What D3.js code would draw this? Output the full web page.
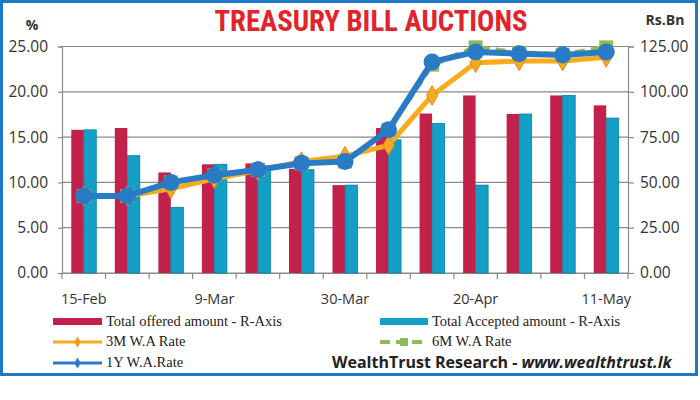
<!DOCTYPE html>
<html><head><meta charset="utf-8">
<script src="https://cdn.jsdelivr.net/npm/d3@7"></script>
<style>body{margin:0;background:#fff}svg{display:block}</style>
</head><body><svg id="c" width="700" height="400"></svg>
<script>
const categories = ["15-Feb","22-Feb","1-Mar","9-Mar","16-Mar","23-Mar","30-Mar","6-Apr","13-Apr","20-Apr","27-Apr","4-May","11-May"];
const shownLabels = ["15-Feb","9-Mar","30-Mar","20-Apr","11-May"];
const offered = [79, 80, 55.5, 60, 60.5, 57.5, 48.5, 80, 88, 98, 87.75, 98, 92.5];
const accepted = [79, 64.75, 36.25, 60, 59, 57, 48.5, 73.5, 82.5, 48.5, 87.75, 98, 85.5];
const rate3M = [8.5, 8.5, 9.3, 10.4, 11.3, 12.3, 12.9, 14.1, 19.6, 23.2, 23.4, 23.4, 23.8];
const rate6M = [8.5, 8.5, 10.0, 10.8, 11.4, 12.1, 12.3, 15.8, 23.0, 24.9, 24.3, 24.1, 24.9];
const rate1Y = [8.5, 8.5, 10.0, 10.8, 11.4, 12.1, 12.3, 15.8, 23.3, 24.4, 24.2, 24.05, 24.4];
const leftTicks = [0, 5, 10, 15, 20, 25];
const rightTicks = [0, 25, 50, 75, 100, 125];

const svg = d3.select("#c");
const L = 62, R = 628, T = 46.5, B = 273;
const x = d3.scaleBand().domain(categories).range([L, R]);
const xs = d3.scaleBand().domain(["off","acc"]).range([0, 25]);
const yL = d3.scaleLinear().domain([0, 25]).range([B, T]);
const yR = d3.scaleLinear().domain([0, 125]).range([B, T]);
const tickFont = "'Open Sans', sans-serif";

// frame
svg.append("rect").attr("x",1.5).attr("y",1.5).attr("width",695).attr("height",373)
  .attr("fill","none").attr("stroke","#1f78c8").attr("stroke-width",3);

// grid
svg.append("g").selectAll("line").data(leftTicks).join("line")
  .attr("x1",L).attr("x2",R).attr("y1",d=>yL(d)).attr("y2",d=>yL(d))
  .attr("stroke","#8a8a8a").attr("stroke-width",1.2);

// left axis
const gl = svg.append("g").attr("transform",`translate(${L},0)`)
  .call(d3.axisLeft(yL).tickValues(leftTicks).tickFormat(d3.format(".2f")).tickSize(4).tickPadding(10));
// right axis
const gr = svg.append("g").attr("transform",`translate(${R},0)`)
  .call(d3.axisRight(yR).tickValues(rightTicks).tickFormat(d3.format(".2f")).tickSize(6).tickPadding(6));
// bottom axis
const gb = svg.append("g").attr("transform",`translate(0,${B})`)
  .call(d3.axisBottom(x).tickValues([]).tickSizeOuter(0));
gb.selectAll(".edge").data(d3.range(categories.length+1)).join("line")
  .attr("x1",i=>L+i*x.step()).attr("x2",i=>L+i*x.step()).attr("y1",0).attr("y2",6)
  .attr("stroke","#8a8a8a").attr("stroke-width",1.2);
svg.append("g").selectAll("text").data(shownLabels).join("text")
  .attr("x",d=>x(d)+x.bandwidth()/2).attr("y",304).attr("text-anchor","middle")
  .attr("font-family",tickFont).attr("font-size",14.5).attr("fill","#333").text(d=>d);
[gl,gr,gb].forEach(g=>{
  g.selectAll(".domain").attr("stroke","#8a8a8a").attr("stroke-width",1.2);
  g.selectAll(".tick line").attr("stroke","#8a8a8a").attr("stroke-width",1.2);
  g.selectAll("text").attr("font-family",tickFont).attr("font-size",15.5).attr("fill","#333");
});

// bars
const barG = svg.append("g");
const off = (c) => x(c) + (x.bandwidth()-25)/2;
barG.selectAll(".off").data(categories).join("rect")
  .attr("x",(c)=>off(c)+xs("off")).attr("width",xs.bandwidth())
  .attr("y",(c,i)=>yR(offered[i])).attr("height",(c,i)=>B-yR(offered[i]))
  .attr("fill","#c2214c");
barG.selectAll(".acc").data(categories).join("rect")
  .attr("x",(c)=>off(c)+xs("acc")).attr("width",xs.bandwidth())
  .attr("y",(c,i)=>yR(accepted[i])).attr("height",(c,i)=>B-yR(accepted[i]))
  .attr("fill","#139fc6").attr("stroke","#0b7f9f").attr("stroke-width",0.8);

const cx = c => x(c) + x.bandwidth()/2;
const line = d3.line().x((d,i)=>cx(categories[i])).y(d=>yL(d));

// 3M
svg.append("path").attr("d",line(rate3M)).attr("fill","none").attr("stroke","#f7ac1e").attr("stroke-width",5).attr("stroke-linejoin","round");
svg.append("g").selectAll("path").data(rate3M).join("path")
  .attr("d",d3.symbol(d3.symbolDiamond,110)())
  .attr("transform",(d,i)=>`translate(${cx(categories[i])},${yL(d)})`)
  .attr("fill","#f7a825").attr("stroke","#e8891a").attr("stroke-width",1);
// 6M
svg.append("path").attr("d",line(rate6M)).attr("fill","none").attr("stroke","#8dbb55").attr("stroke-width",5).attr("stroke-dasharray","10,6");
svg.append("g").selectAll("rect").data(rate6M).join("rect")
  .attr("x",(d,i)=>cx(categories[i])-7).attr("y",d=>yL(d)-7).attr("width",14).attr("height",14)
  .attr("fill","#8dbb55");
// 1Y
svg.append("path").attr("d",line(rate1Y)).attr("fill","none").attr("stroke","#2a7bc6").attr("stroke-width",6).attr("stroke-linejoin","round");
svg.append("g").selectAll("circle").data(rate1Y).join("circle")
  .attr("cx",(d,i)=>cx(categories[i])).attr("cy",d=>yL(d)).attr("r",8.5)
  .attr("fill","#2a7bc6");

// titles
svg.append("text").attr("x",371).attr("y",31).attr("text-anchor","middle")
  .attr("font-family","'Liberation Sans Narrow','Roboto Condensed','Arial Narrow',sans-serif")
  .attr("font-weight","bold").attr("font-size",29).attr("fill","#e3232c")
  .attr("textLength",313).attr("lengthAdjust","spacingAndGlyphs").text("TREASURY BILL AUCTIONS");
svg.append("text").attr("x",32).attr("y",30).attr("text-anchor","middle")
  .attr("font-family",tickFont).attr("font-weight","bold").attr("font-size",14).attr("fill","#333").text("%");
svg.append("text").attr("x",665).attr("y",25).attr("text-anchor","middle")
  .attr("font-family",tickFont).attr("font-weight","bold").attr("font-size",14).attr("fill","#333").text("Rs.Bn");

// legend
const serif = "'Liberation Serif','Times New Roman',serif";
const lg = svg.append("g");
lg.append("rect").attr("x",53).attr("y",318).attr("width",49).attr("height",7).attr("fill","#c2214c");
lg.append("text").attr("x",106).attr("y",326).text("Total offered amount - R-Axis");
lg.append("rect").attr("x",380).attr("y",318).attr("width",48).attr("height",7).attr("fill","#139fc6");
lg.append("text").attr("x",432).attr("y",326).text("Total Accepted amount - R-Axis");
lg.append("line").attr("x1",53).attr("x2",102).attr("y1",342).attr("y2",342).attr("stroke","#f7ac1e").attr("stroke-width",3);
lg.append("path").attr("d",d3.symbol(d3.symbolDiamond,36)()).attr("transform","translate(77.5,342)").attr("fill","#f09a20");
lg.append("text").attr("x",106).attr("y",346).text("3M W.A Rate");
lg.append("line").attr("x1",380).attr("x2",428).attr("y1",342).attr("y2",342).attr("stroke","#8dbb55").attr("stroke-width",4).attr("stroke-dasharray","10,6");
lg.append("rect").attr("x",400).attr("y",338).attr("width",8).attr("height",8).attr("fill","#8dbb55");
lg.append("text").attr("x",432).attr("y",346).text("6M W.A Rate");
lg.append("line").attr("x1",53).attr("x2",102).attr("y1",363).attr("y2",363).attr("stroke","#2a7bc6").attr("stroke-width",3);
lg.append("path").attr("d",d3.symbol(d3.symbolDiamond,36)()).attr("transform","translate(77.5,363)").attr("fill","#2a7bc6");
lg.append("text").attr("x",106).attr("y",367).text("1Y W.A.Rate");
lg.selectAll("text").attr("font-family",serif).attr("font-size",14.5).attr("fill","#222");
const wt = svg.append("text").attr("x",332).attr("y",368)
  .attr("font-family",tickFont).attr("font-weight","bold").attr("font-size",16).attr("fill","#222");
wt.append("tspan").text("WealthTrust Research - ");
wt.append("tspan").attr("font-style","italic").text("www.wealthtrust.lk");
</script></body></html>
